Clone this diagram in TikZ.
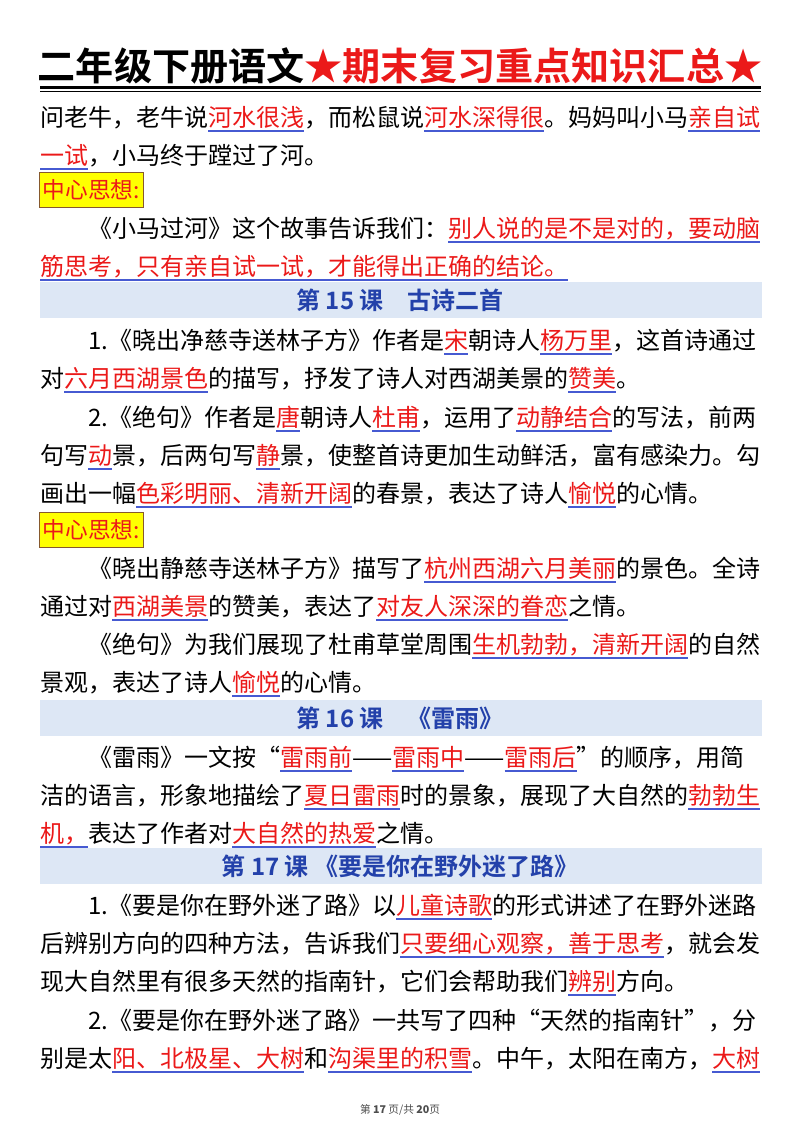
\documentclass[tikz,border=0pt]{standalone}
\usepackage{fontspec}
\setmainfont{Noto Sans CJK SC}
\newfontfamily\bodyf{Noto Sans CJK SC}
\newfontfamily\boldf{Noto Sans CJK SC Bold}
\definecolor{hlred}{RGB}{235,25,25}
\definecolor{ulblue}{RGB}{70,90,210}
\definecolor{bandbg}{RGB}{221,231,245}
\definecolor{bandtx}{RGB}{35,65,170}
\definecolor{boxy}{RGB}{255,255,0}
\newcommand\hl[1]{\setbox0\hbox{#1}\rlap{\color{ulblue}\rule[-4.2pt]{\wd0}{1pt}}\textcolor{hlred}{\box0}}
\tikzset{ln/.style={anchor=base west,inner sep=0pt,font=\bodyf\fontsize{18pt}{20pt}\selectfont},
band/.style={fill=bandbg,draw=none},
bandtext/.style={anchor=center,inner sep=0pt,text=bandtx,font=\boldf\fontsize{18pt}{20pt}\selectfont},
ybox/.style={fill=boxy,draw=brown!70!black,line width=0.6pt,minimum width=78pt,minimum height=26pt,inner sep=0pt,anchor=north west,text=hlred,font=\bodyf\fontsize{17pt}{20pt}\selectfont}}
\begin{document}
\begin{tikzpicture}[x=0.75pt,y=-0.75pt]
\useasboundingbox (0,0) rectangle (800,1132);
\node[anchor=base,inner sep=0pt,font=\boldf\fontsize{28.6pt}{30pt}\selectfont] (title) at (400,80) {二年级下册语文\textcolor{hlred}{★期末复习重点知识汇总★}};
\draw[line width=1.6pt] (40,87.5) coordinate (u1) -- (761,87.5) coordinate (u2);
\draw[line width=0.8pt] (40,91.5) coordinate (u3) -- (761,91.5) coordinate (u4);
\node[ln] (l1) at (40,126) {问老牛，老牛说\hl{河水很浅}，而松鼠说\hl{河水深得很}。妈妈叫小马\hl{亲自试}};
\node[ln] (l2) at (40,164) {\hl{一试}，小马终于蹚过了河。};
\node[ybox] (b1) at (39,172) {中心思想:};
\node[ln] (l3) at (88,237) {《小马过河》这个故事告诉我们：\hl{别人说的是不是对的，要动脑}};
\node[ln] (l4) at (40,275) {\hl{筋思考，只有亲自试一试，才能得出正确的结论。}};
\fill[band] (40,282) rectangle (762,318);
\node[bandtext] (t15) at (400,300) {第 15 课\quad 古诗二首};
\node[ln] (l5) at (88,349) {1.《晓出净慈寺送林子方》作者是\hl{宋}朝诗人\hl{杨万里}，这首诗通过};
\node[ln] (l6) at (40,387) {对\hl{六月西湖景色}的描写，抒发了诗人对西湖美景的\hl{赞美}。};
\node[ln] (l7) at (88,426) {2.《绝句》作者是\hl{唐}朝诗人\hl{杜甫}，运用了\hl{动静结合}的写法，前两};
\node[ln] (l8) at (40,464) {句写\hl{动}景，后两句写\hl{静}景，使整首诗更加生动鲜活，富有感染力。勾};
\node[ln] (l9) at (40,502) {画出一幅\hl{色彩明丽、清新开阔}的春景，表达了诗人\hl{愉悦}的心情。};
\node[ybox] (b2) at (39,512) {中心思想:};
\node[ln] (l10) at (88,577) {《晓出静慈寺送林子方》描写了\hl{杭州西湖六月美丽}的景色。全诗};
\node[ln] (l11) at (40,615) {通过对\hl{西湖美景}的赞美，表达了\hl{对友人深深的眷恋}之情。};
\node[ln] (l12) at (88,653) {《绝句》为我们展现了杜甫草堂周围\hl{生机勃勃，清新开阔}的自然};
\node[ln] (l13) at (40,691) {景观，表达了诗人\hl{愉悦}的心情。};
\fill[band] (40,700) rectangle (762,736);
\node[bandtext] (t16) at (400,718) {第 16 课\quad 《雷雨》};
\node[ln] (l14) at (88,766) {《雷雨》一文按“\hl{雷雨前}——\hl{雷雨中}——\hl{雷雨后}”的顺序，用简};
\node[ln] (l15) at (40,804) {洁的语言，形象地描绘了\hl{夏日雷雨}时的景象，展现了大自然的\hl{勃勃生}};
\node[ln] (l16) at (40,842) {\hl{机，}表达了作者对\hl{大自然的热爱}之情。};
\fill[band] (40,848) rectangle (762,884);
\node[bandtext] (t17) at (400,866) {第 17 课 《要是你在野外迷了路》};
\node[ln] (l17) at (88,914) {1.《要是你在野外迷了路》以\hl{儿童诗歌}的形式讲述了在野外迷路};
\node[ln] (l18) at (40,952) {后辨别方向的四种方法，告诉我们\hl{只要细心观察，善于思考}，就会发};
\node[ln] (l19) at (40,990) {现大自然里有很多天然的指南针，它们会帮助我们\hl{辨别}方向。};
\node[ln] (l20) at (88,1029) {2.《要是你在野外迷了路》一共写了四种“天然的指南针”，分};
\node[ln] (l21) at (40,1067) {别是太\hl{阳、北极星、大树}和\hl{沟渠里的积雪}。中午，太阳在南方，\hl{大树}};
\node[anchor=base,inner sep=0pt,text=black!70,font=\bodyf\fontsize{8pt}{9pt}\selectfont] (pg) at (400,1113) {第 \textbf{17} 页/共 \textbf{20}页};
\end{tikzpicture}
\end{document}
